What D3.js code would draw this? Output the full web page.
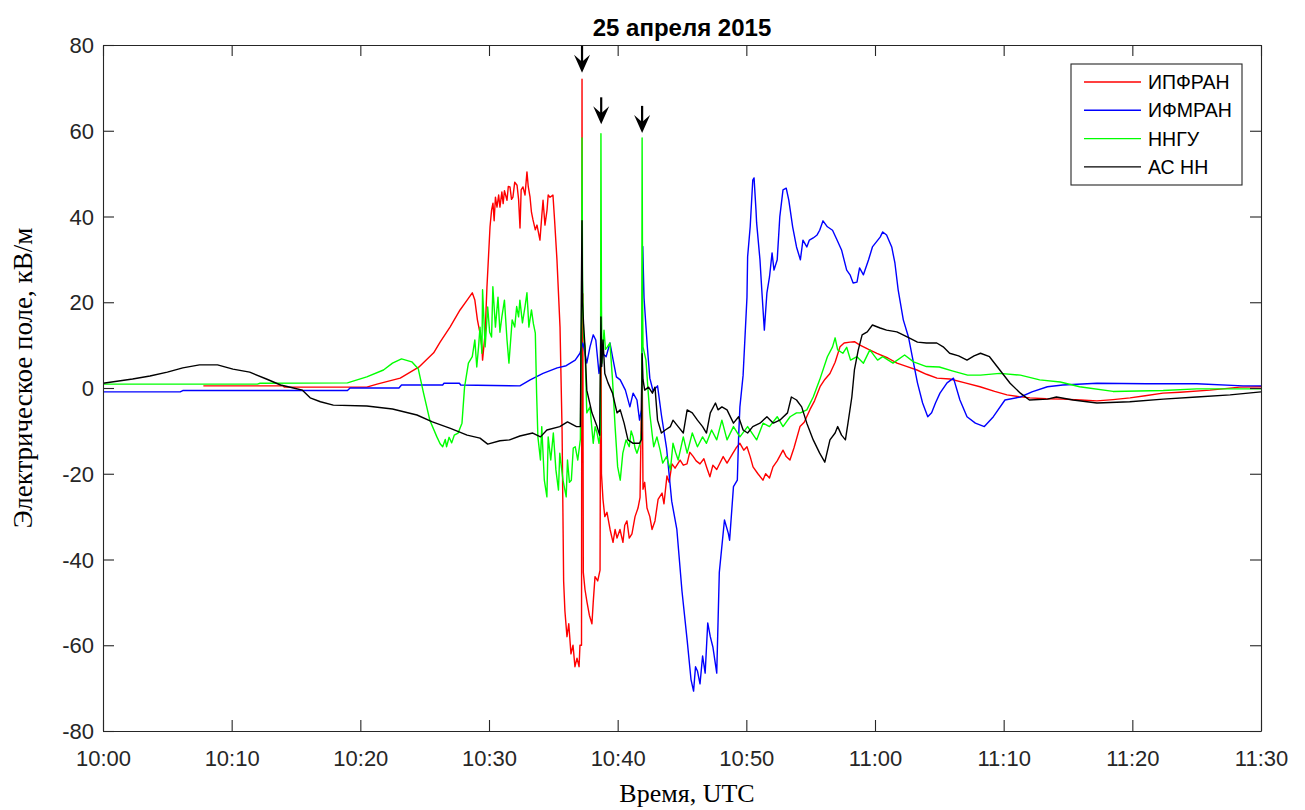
<!DOCTYPE html>
<html><head><meta charset="utf-8">
<script src="https://cdn.jsdelivr.net/npm/d3@7"></script>
<style>body{margin:0;background:#fff}svg{display:block}</style>
</head><body>
<svg id="c" width="1305" height="810"></svg>
<script>
// ---- data: [minutes after 10:00, field kV/m]
const seriesNames = ["ИПФРАН","ИФМРАН","ННГУ","АС НН"];
const seriesColors = ["#ff0000","#0000ff","#00ff00","#000000"];
const titleText = "25 апреля 2015";
const xLabel = "Время, UTC";
const yLabel = "Электрическое поле, кВ/м";
const xTicks = [0,10,20,30,40,50,60,70,80,90];
const xTickLabels = ["10:00","10:10","10:20","10:30","10:40","10:50","11:00","11:10","11:20","11:30"];
const yTicks = [-80,-60,-40,-20,0,20,40,60,80];
const yTickLabels = ["-80","-60","-40","-20","0","20","40","60","80"];
const arrowTimes = [37.23,38.72,41.9];
const arrowTips = [73.5,61.5,59.5];

const ipfran = [[7.8,0.5],[14.0,0.5],[14.1,0.2],[20.5,0.2],[21.3,0.9],[23.1,2.3],[24.6,5.0],[25.7,8.2],[26.2,10.7],[26.97,14.2],[27.75,18.2],[28.3,20.5],[28.7,22.2],[28.9,20.5],[29.1,15.9],[29.3,12.8],[29.45,9.6],[29.5,6.5],[29.7,12.8],[29.84,23.5],[30.08,37.6],[30.2,41.5],[30.31,43.1],[30.4,39],[30.5,44.5],[30.62,42.2],[30.75,45],[30.85,42.2],[31.0,45.7],[31.1,43],[31.2,46],[31.4,43.8],[31.5,47],[31.63,46.9],[31.75,44],[31.86,44.5],[32.0,48],[32.18,47.3],[32.3,44],[32.41,37.3],[32.5,46.2],[32.64,46.9],[32.8,45],[32.95,50.4],[33.05,47],[33.19,44.5],[33.3,41],[33.42,39.2],[33.6,36.9],[33.73,38],[33.96,34.5],[34.1,40],[34.2,43.8],[34.35,38],[34.51,41.5],[34.6,45],[34.74,44.5],[34.97,45],[35.1,39],[35.28,30],[35.52,14.2],[35.68,-10],[35.8,-45],[35.9,-52],[36.06,-58],[36.2,-55],[36.37,-62],[36.53,-60],[36.68,-65],[36.84,-63],[37.0,-65],[37.07,-60],[37.19,-60],[37.23,72],[37.26,-10],[37.29,22],[37.33,-43],[37.46,-47],[37.62,-50],[37.8,-53],[38.0,-55],[38.1,-50],[38.24,-44],[38.45,-45],[38.63,-42.5],[38.7,29],[38.74,-20],[38.86,-26],[39.0,-30],[39.17,-29],[39.41,-33],[39.64,-36],[39.8,-33],[39.95,-35],[40.18,-33],[40.41,-36],[40.55,-32],[40.72,-31],[40.9,-35],[41.11,-34],[41.35,-30],[41.58,-28],[41.74,-25.5],[41.9,7],[41.97,-23.6],[42.1,-22],[42.28,-28],[42.5,-30],[42.67,-33],[42.9,-31],[43.14,-26],[43.45,-24.5],[43.6,-27],[43.83,-20.5],[44.0,-22],[44.22,-17.7],[44.46,-18.7],[44.85,-16.8],[45.1,-18],[45.39,-17.7],[45.6,-15],[45.85,-15.9],[46.1,-17],[46.4,-17.7],[46.7,-16.5],[46.94,-18.7],[47.17,-20.7],[47.4,-18],[47.7,-19],[47.95,-17.5],[48.2,-16],[48.5,-17.5],[48.96,-15.2],[49.2,-14],[49.5,-12.9],[49.8,-14.5],[50.05,-13.7],[50.3,-16],[50.52,-18.4],[50.9,-20],[51.29,-21.5],[51.5,-20],[51.8,-21],[52.07,-18.4],[52.4,-17],[52.85,-14.5],[53.1,-16],[53.39,-16.8],[53.7,-14],[54.17,-9],[54.5,-8],[54.95,-5],[55.3,-3],[55.73,0.3],[56.1,2],[56.5,3.4],[56.9,6],[57.28,9.6],[57.6,10.5],[58.06,10.7],[58.4,10.8],[58.83,10],[59.5,9],[60.15,8.1],[61.0,7],[61.71,5.8],[62.5,5],[63.26,4.2],[64.0,3.2],[64.82,2.3],[65.83,2.1],[67.0,1.2],[68.16,0.3],[69.3,-0.8],[70.26,-1.6],[71.2,-2],[72.04,-2.3],[73.3,-2.5],[74.61,-2.6],[76.0,-2.8],[77.25,-3],[78.5,-2.7],[79.82,-2.3],[81.0,-1.8],[82.38,-1.2],[83.7,-1],[86.03,-0.5],[88.36,0.2],[90,0.3]];

const ifmran = [[0,-0.9],[6,-0.9],[6.2,-0.6],[19,-0.6],[19.2,0],[23,0],[23.2,0.7],[26.4,0.7],[26.5,1.1],[27.7,1.1],[27.8,0.7],[32.4,0.5],[33.2,1.9],[34.2,3.4],[35.3,4.7],[36.0,5.2],[36.7,6.5],[37.07,8.1],[37.3,10.5],[37.6,5.8],[37.85,9.6],[38.1,12.4],[38.3,11.2],[38.55,3.4],[38.8,8.1],[39.1,7.3],[39.4,10.5],[39.65,6.5],[39.9,2.6],[40.2,1.9],[40.6,-0.5],[40.95,-4.4],[41.2,-1.2],[41.5,-2.8],[41.7,-7.5],[41.85,-5],[41.95,33],[42.05,21],[42.3,9.8],[42.5,2.3],[42.75,-0.7],[43.1,0.5],[43.4,-6.3],[43.8,-14],[44.2,-26.4],[44.6,-33],[45.0,-47.4],[45.4,-58.8],[45.7,-68],[45.9,-70.7],[46.05,-65],[46.2,-66],[46.4,-69],[46.6,-62.5],[46.8,-66.5],[47.0,-54.8],[47.2,-58],[47.4,-60.4],[47.7,-66.5],[47.9,-43],[48.3,-30.8],[48.6,-33.9],[48.7,-35.5],[49.0,-23],[49.3,-21.5],[49.4,-11.4],[49.5,-4.4],[49.75,3],[50.05,21.2],[50.1,30.6],[50.3,37.6],[50.5,48.5],[50.6,49],[50.75,41.5],[50.8,38.5],[51.06,29.9],[51.2,22.9],[51.4,13.5],[51.6,22.2],[51.8,25.9],[52.0,31.5],[52.15,27.5],[52.4,29.9],[52.6,39.9],[52.85,46.2],[53.1,46.6],[53.3,43.8],[53.6,37.6],[53.9,32.9],[54.2,29.9],[54.4,34.5],[54.7,32.9],[54.9,34.5],[55.2,35],[55.5,35.7],[55.7,36.8],[55.96,39],[56.3,37.6],[56.7,36.8],[57.05,34.5],[57.4,32.2],[57.8,27.5],[58.06,26.4],[58.3,24.5],[58.6,24.7],[58.8,28],[59.1,26.4],[59.5,29.9],[59.8,32.9],[60.4,35.2],[60.6,36.4],[60.9,35.7],[61.3,32.9],[61.55,29.1],[61.8,22.9],[62.2,15.9],[62.6,11.9],[62.95,6.5],[63.3,1.2],[63.7,-3.5],[64.1,-6.7],[64.4,-5.8],[64.7,-3.5],[65.05,-1.2],[65.6,1.2],[66.1,2.3],[66.6,-2.8],[67.15,-6.7],[67.8,-8.2],[68.5,-9],[69.2,-6.7],[70.1,-2.8],[71.3,-2.1],[72.2,-0.9],[73.4,0.3],[74.6,0.7],[77.25,1.1],[81.1,1],[85,1],[88.6,0.5],[90,0.5]];

const nngu = [[0,0.9],[12,0.9],[12.2,1.1],[19,1.2],[20.5,2.6],[21.8,4.2],[22.5,5.8],[23.2,6.8],[24.0,6.1],[24.5,4.5],[24.9,-1],[25.4,-7.5],[25.95,-11.4],[26.2,-13],[26.4,-13.7],[26.6,-12],[26.7,-13.7],[26.9,-11.5],[27.1,-12.8],[27.3,-11],[27.6,-10.5],[27.9,-8.2],[28.1,0.2],[28.4,5.8],[28.7,7.3],[28.9,11.2],[29.05,4.9],[29.2,10],[29.3,14.2],[29.45,8.1],[29.5,22.9],[29.7,9.6],[29.9,18.9],[30.05,13],[30.2,11.9],[30.3,23.6],[30.5,14.2],[30.7,21.2],[30.85,13],[31.0,16.6],[31.2,20.5],[31.4,11.2],[31.55,5.8],[31.8,15.9],[32.0,14.2],[32.15,19],[32.3,16.6],[32.4,20.5],[32.6,15.2],[32.8,19],[32.95,22.2],[33.1,14.2],[33.3,18.2],[33.45,15],[33.6,12.8],[33.7,-1.2],[33.8,-11.4],[34.0,-16.8],[34.1,-9],[34.3,-21.5],[34.5,-25.4],[34.6,-11.4],[34.8,-16.8],[35.0,-10.5],[35.2,-19.1],[35.4,-23.8],[35.5,-15.2],[35.75,-21.5],[36.0,-25.4],[36.1,-16.8],[36.25,-22],[36.4,-21.5],[36.55,-14],[36.7,-13.7],[36.9,-16.8],[37.1,-12],[37.2,20],[37.23,58.3],[37.27,25],[37.35,12],[37.46,9.6],[37.6,-5.8],[37.85,-4.4],[38.1,-12.9],[38.25,-9],[38.4,-10.5],[38.55,-12.9],[38.66,-10],[38.7,59.3],[38.74,20],[38.78,5.8],[38.94,13.5],[39.05,9],[39.2,9.6],[39.4,10.5],[39.6,1.9],[39.8,-9],[40.0,-18.4],[40.2,-21.5],[40.4,-15.2],[40.65,-12.1],[40.9,-13.7],[41.05,-10],[41.2,-11.4],[41.35,-14],[41.5,-15.2],[41.75,-12.9],[41.86,-10],[41.9,58.3],[41.94,20],[41.97,9.6],[42.2,6.5],[42.36,-0.5],[42.5,-6],[42.67,-10.5],[42.8,-13.7],[43.05,-11.4],[43.3,-14.5],[43.5,-17.5],[43.8,-16],[44.1,-19.1],[44.3,-12.9],[44.5,-15],[44.7,-16.8],[45.1,-11.4],[45.4,-15.2],[45.8,-10.5],[46.2,-13.7],[46.6,-11.4],[46.9,-12.9],[47.3,-9.8],[47.7,-12.1],[48.1,-7.5],[48.5,-12.1],[49.0,-9],[49.5,-11.4],[50.1,-9],[50.8,-12.1],[51.3,-8.2],[51.8,-9],[52.4,-6.7],[52.85,-9],[53.4,-6.7],[53.9,-5.8],[54.2,-5.8],[54.7,-5.1],[55.2,-2.1],[55.7,1.9],[56.3,7.3],[56.7,9.6],[56.9,11.7],[57.1,8.9],[57.5,8.1],[57.8,9.5],[58.1,6.5],[58.6,7.3],[59.1,5.8],[59.6,8.9],[60.2,6.5],[60.6,7.3],[61.4,5.8],[62.3,7.7],[63.0,6.1],[64.0,5],[65.0,4.9],[66.0,4],[67.2,3],[68.2,3],[69.7,3.4],[71.3,3],[72.8,1.9],[74.4,1.4],[75.9,0.3],[78.5,-0.8],[82.4,-0.6],[85.0,-0.2],[90,-0.2]];

const asnn = [[0,1.1],[2.3,2.1],[3.65,2.8],[5,3.7],[6.2,4.7],[7.5,5.4],[8.9,5.4],[10.1,4.4],[11.4,3.7],[12.7,2.1],[13.8,0.7],[14.8,0],[15.5,-0.5],[16.1,-2.3],[16.9,-3.2],[17.9,-4],[20.5,-4.2],[22.5,-4.9],[24.4,-6.3],[25.6,-7.9],[27.0,-9.4],[28.3,-11],[29.3,-11.7],[29.9,-13.1],[30.85,-12.3],[31.6,-12.1],[32.4,-11.2],[33.4,-10.5],[34.0,-11.4],[34.5,-9.8],[35.5,-9],[36.1,-7.9],[36.8,-9],[37.1,-9],[37.2,30],[37.23,39],[37.27,20],[37.35,15],[37.46,9.6],[37.6,-0.5],[38.0,-5.8],[38.4,-9],[38.6,-11],[38.7,16.6],[38.76,5],[38.86,11.2],[39.0,3.4],[39.25,1.2],[39.6,-1.2],[39.95,-5.8],[40.2,-5.1],[40.5,-8.2],[40.8,-12.1],[41.2,-12.9],[41.7,-12.9],[41.85,-12],[41.9,8],[41.97,2],[42.1,-0.5],[42.4,0.2],[42.7,-1.2],[42.9,0.2],[43.1,-7.5],[43.4,-10.5],[43.7,-9.8],[44.1,-9],[44.3,-7.5],[44.7,-9],[45.1,-10.5],[45.4,-5.1],[45.8,-5.8],[46.2,-7.5],[46.6,-9],[46.9,-10.5],[47.2,-5.8],[47.6,-3.5],[47.8,-5.1],[48.1,-4.4],[48.5,-5.1],[49.0,-8.2],[49.4,-6.7],[49.75,-9.8],[50.1,-10.5],[50.5,-9],[51.06,-8.2],[51.6,-6.7],[52.1,-8.2],[52.6,-7.5],[53.2,-5.8],[53.5,-2.1],[53.9,-2.8],[54.3,-4.4],[54.7,-8.2],[55.2,-12.1],[55.7,-15.2],[56.1,-17.3],[56.5,-12.1],[56.9,-10.5],[57.1,-9],[57.4,-11],[57.7,-12.1],[57.9,-8.2],[58.2,-2.1],[58.4,4.2],[58.7,8.9],[59.0,12.4],[59.4,13.1],[59.8,14.7],[60.4,14],[60.9,13.5],[61.7,13.1],[62.5,11.9],[63.3,10.7],[64.0,10.5],[64.8,10.5],[65.3,9.6],[65.8,8.1],[66.5,7.5],[67.15,6.5],[67.7,7.5],[68.2,8.1],[68.9,7.3],[69.7,4.2],[70.5,1.1],[71.3,-1.2],[72.0,-2.8],[73.4,-2.6],[74.1,-2.1],[75.4,-2.8],[77.25,-3.5],[79.8,-3.2],[82.4,-2.6],[85,-2.1],[87.6,-1.6],[90,-0.9]];

const allSeries = [ipfran, ifmran, nngu, asnn];

// ---- layout
const L = 103, R = 1261, T = 45, B = 731;
const axisColor = "#262626";
const tickFont = "Liberation Sans, Arial, sans-serif";
const serifFont = "Liberation Serif, Times New Roman, serif";
const svg = d3.select("#c");
const x = d3.scaleLinear().domain([0,90]).range([L,R]);
const y = d3.scaleLinear().domain([-80,80]).range([B,T]);

// lines
const line = d3.line().x(d=>x(d[0])).y(d=>y(d[1]));
svg.append("clipPath").attr("id","pc").append("rect")
  .attr("x",L).attr("y",T).attr("width",R-L).attr("height",B-T);
const gLines = svg.append("g").attr("clip-path","url(#pc)");
allSeries.forEach((s,i)=>{
  gLines.append("path").datum(s).attr("d",line)
    .attr("fill","none").attr("stroke",seriesColors[i])
    .attr("stroke-width",1.4).attr("stroke-linejoin","round");
});

// axes
function styleAxis(g){
  g.select(".domain").attr("stroke",axisColor).attr("stroke-width",1.1);
  g.selectAll(".tick line").attr("stroke",axisColor).attr("stroke-width",1.1);
  g.selectAll(".tick text").attr("fill",axisColor).attr("font-family",tickFont).attr("font-size",22);
}
const gx = svg.append("g").attr("transform",`translate(0,${B})`)
  .call(d3.axisBottom(x).tickValues(xTicks).tickFormat((d,i)=>xTickLabels[i]).tickSizeInner(-11).tickSizeOuter(0).tickPadding(0));
styleAxis(gx);
gx.selectAll(".tick text").attr("y",35).attr("dy",0);
const gxt = svg.append("g").attr("transform",`translate(0,${T})`)
  .call(d3.axisTop(x).tickValues(xTicks).tickFormat("").tickSizeInner(-11).tickSizeOuter(0));
styleAxis(gxt);
const gy = svg.append("g").attr("transform",`translate(${L},0)`)
  .call(d3.axisLeft(y).tickValues(yTicks).tickFormat((d,i)=>yTickLabels[i]).tickSizeInner(-11).tickSizeOuter(0).tickPadding(0));
styleAxis(gy);
gy.selectAll(".tick text").attr("x",-9).attr("dy","0.35em");
const gyr = svg.append("g").attr("transform",`translate(${R},0)`)
  .call(d3.axisRight(y).tickValues(yTicks).tickFormat("").tickSizeInner(-11).tickSizeOuter(0));
styleAxis(gyr);

// arrows
const gA = svg.append("g");
arrowTimes.forEach((t,i)=>{
  const ax = x(t), ay = y(arrowTips[i]);
  gA.append("line").attr("x1",ax).attr("x2",ax).attr("y1",ay-27).attr("y2",ay-8)
    .attr("stroke","#000").attr("stroke-width",2.2);
  gA.append("path").attr("d",`M${ax},${ay} L${ax-8},${ay-18} L${ax},${ay-11} L${ax+8},${ay-18} Z`)
    .attr("fill","#000");
});

// title & labels
svg.append("text").attr("x",(L+R)/2).attr("y",36).attr("text-anchor","middle")
  .attr("font-family",tickFont).attr("font-weight","bold").attr("font-size",24).attr("fill","#000").text(titleText);
svg.append("text").attr("x",(L+R)/2+5).attr("y",802).attr("text-anchor","middle")
  .attr("font-family",serifFont).attr("font-size",26).attr("fill","#000").text(xLabel);
svg.append("text").attr("transform",`translate(32,${(T+B)/2-10}) rotate(-90)`).attr("text-anchor","middle")
  .attr("font-family",serifFont).attr("font-size",27).attr("fill","#000").text(yLabel);

// legend
const lg = svg.append("g");
lg.append("rect").attr("x",1071).attr("y",64).attr("width",171).attr("height",121)
  .attr("fill","#fff").attr("stroke",axisColor).attr("stroke-width",1.1);
seriesNames.forEach((n,i)=>{
  const ly = 82 + i*28.3;
  lg.append("line").attr("x1",1084).attr("x2",1141).attr("y1",ly).attr("y2",ly)
    .attr("stroke",seriesColors[i]).attr("stroke-width",1.4);
  lg.append("text").attr("x",1148).attr("y",ly+7).attr("font-family",tickFont)
    .attr("font-size",19.5).attr("fill","#000").text(n);
});
</script>
</body></html>
